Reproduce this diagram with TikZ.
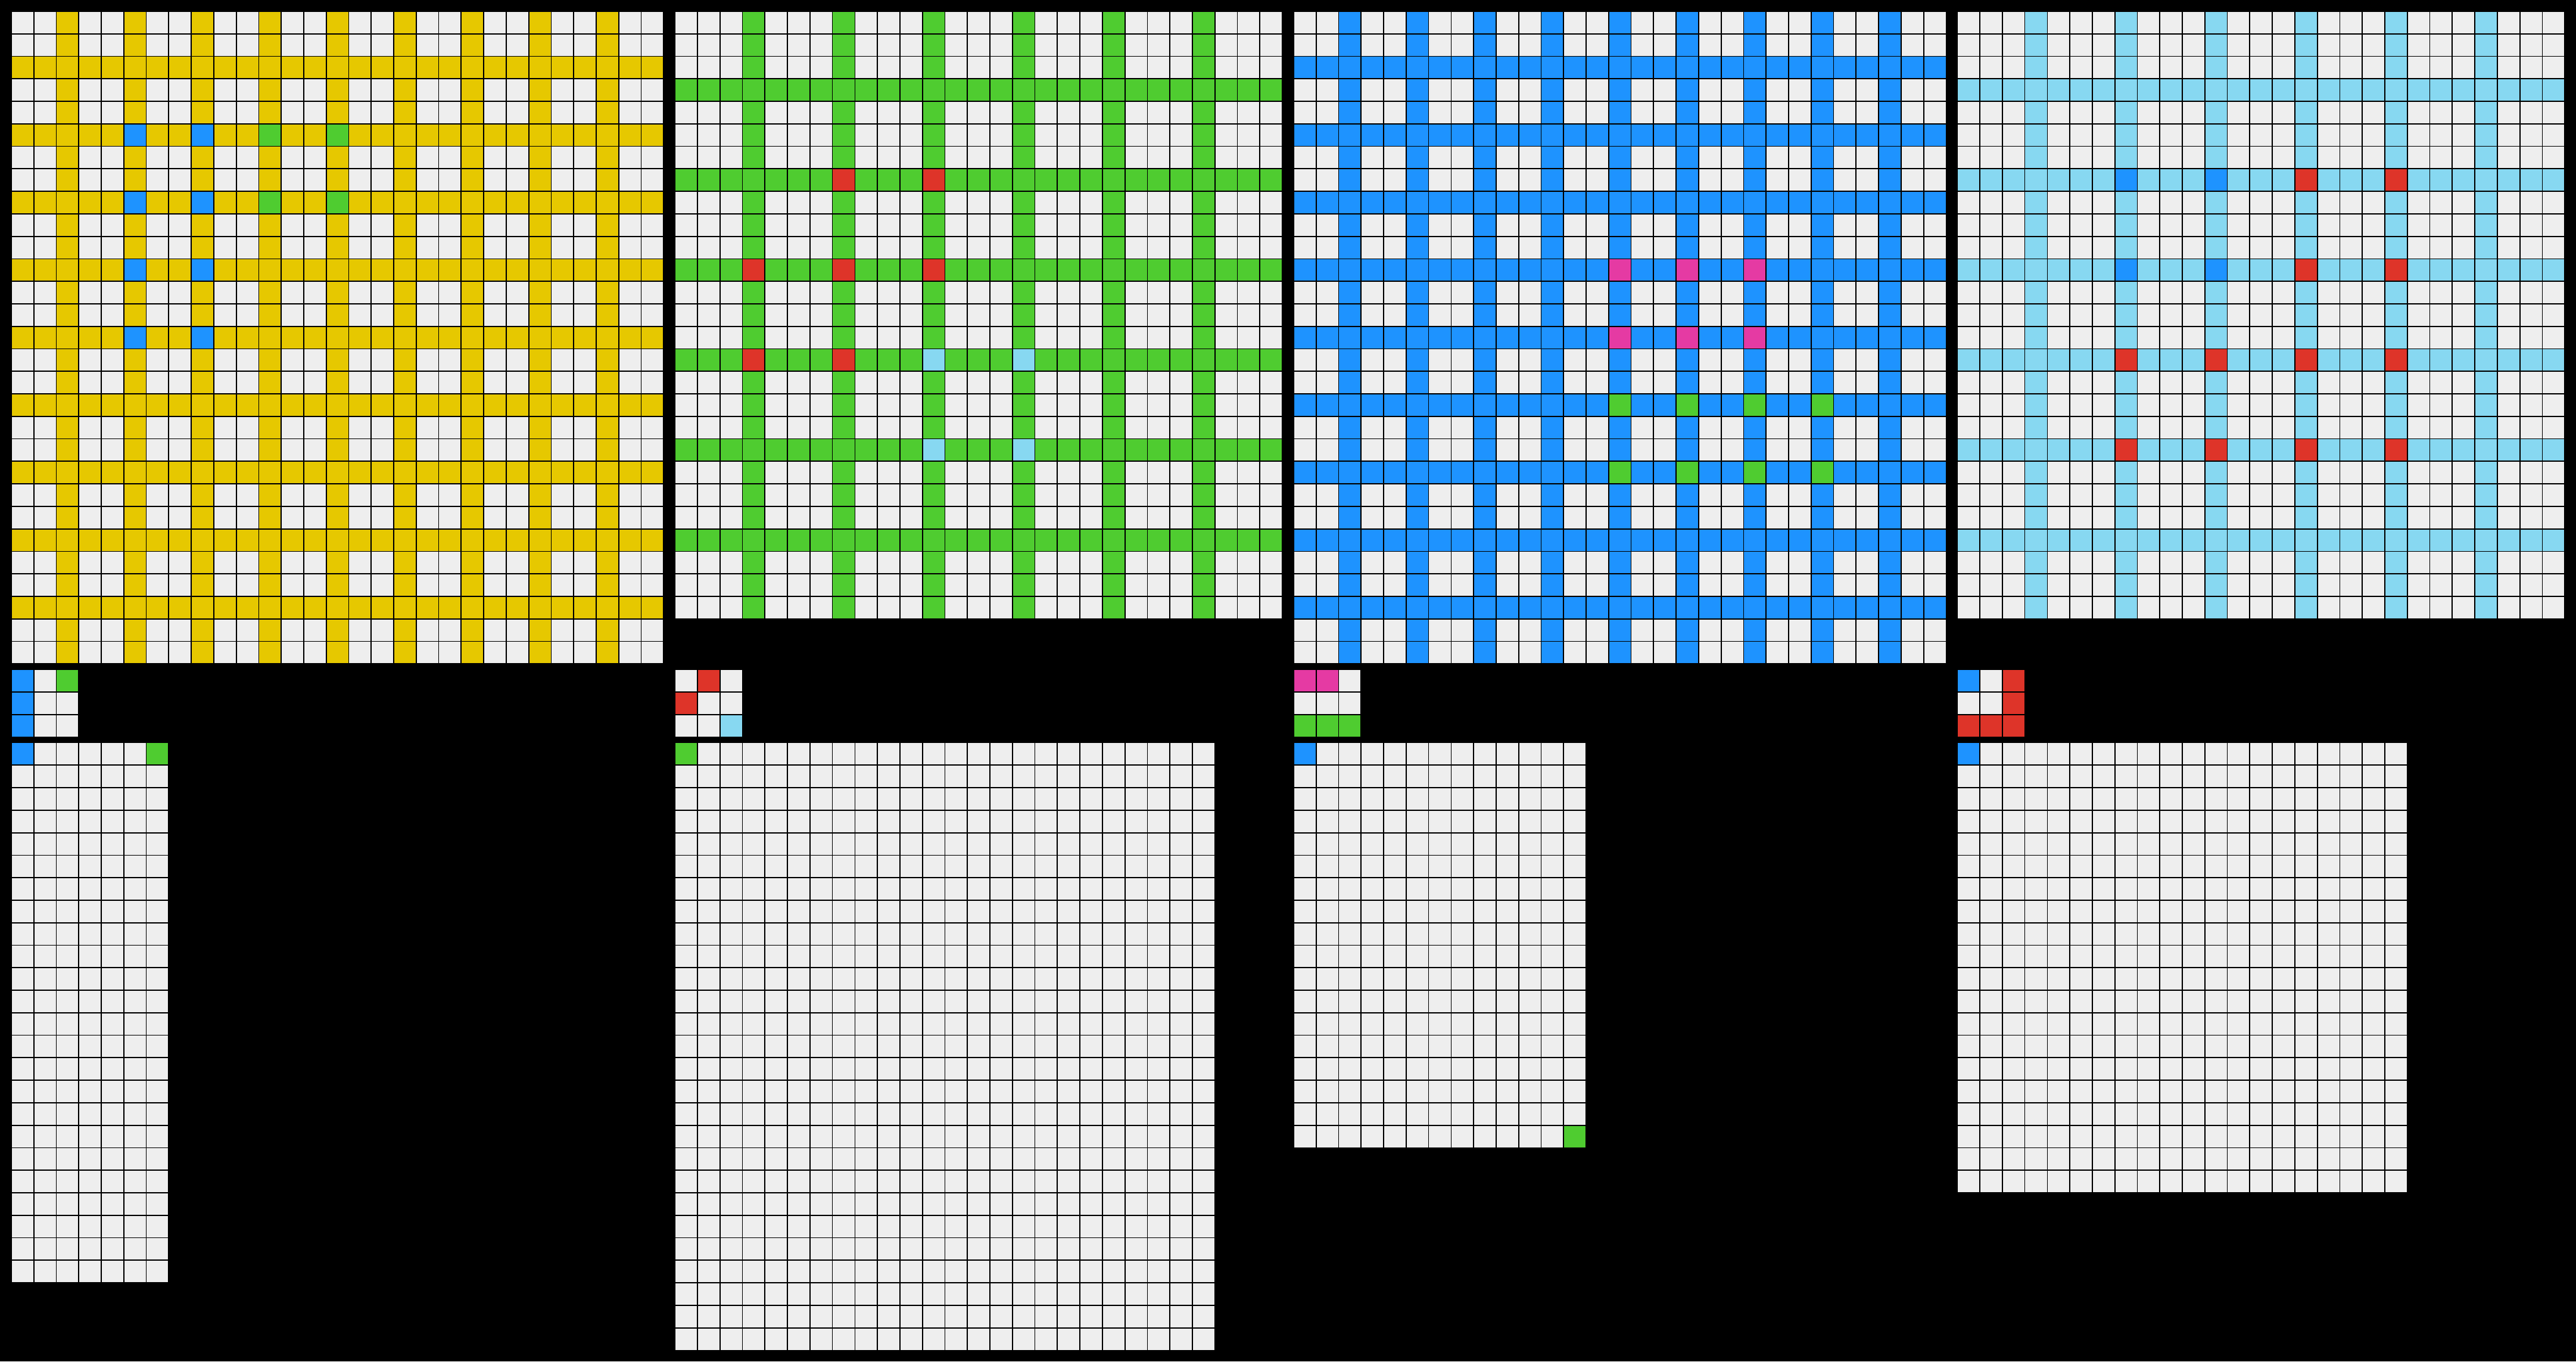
\documentclass[tikz,border=0pt]{standalone}
\usepackage{tikz}

\definecolor{arcgray}{HTML}{EEEEEE}
\definecolor{arcyellow}{HTML}{E6C800}
\definecolor{arcblue}{HTML}{1E93FF}
\definecolor{arcgreen}{HTML}{4FCC30}
\definecolor{arcred}{HTML}{DE3429}
\definecolor{arcmagenta}{HTML}{E53AA3}
\definecolor{arclightblue}{HTML}{87D8F1}

% row, column, colour
\newcommand{\paintcell}[3]{\fill[#3] (#2,#1) rectangle ++(1,1);}
% width, height
\newcommand{\drawlattice}[2]{%
  \foreach \i in {0,...,#1} {\draw[gridline] (\i,0) -- (\i,#2);}
  \foreach \j in {0,...,#2} {\draw[gridline] (0,\j) -- (#1,\j);}}

\begin{document}
\begin{tikzpicture}[
    x=0.5cm, y=-0.5cm,
    board/.style={fill=arcgray},
    gridline/.style={draw=black, line width=0.7pt}
]
    \fill[black] (0,0) rectangle (114.5,60.5);

    % panel 1
    \begin{scope}[shift={(0.5,0.5)}]
        \fill[board] (0,0) rectangle (29,29);
        \foreach \k in {2,5,...,26} {
            \fill[arcyellow] (0,\k) rectangle (29,\k+1);
            \fill[arcyellow] (\k,0) rectangle (\k+1,29);
        }
        \foreach \r in {5,8,11,14} {\foreach \c in {5,8} {\paintcell{\r}{\c}{arcblue}}}
        \foreach \r in {5,8} {\foreach \c in {11,14} {\paintcell{\r}{\c}{arcgreen}}}
        \drawlattice{29}{29}
        \begin{scope}[shift={(0,29.25)}]
            \fill[board] (0,0) rectangle (3,3);
            \foreach \r in {0,1,2} {\paintcell{\r}{0}{arcblue}}
            \paintcell{0}{2}{arcgreen}
            \drawlattice{3}{3}
        \end{scope}
        \begin{scope}[shift={(0,32.5)}]
            \fill[board] (0,0) rectangle (7,24);
            \paintcell{0}{0}{arcblue}
            \paintcell{0}{6}{arcgreen}
            \drawlattice{7}{24}
        \end{scope}
    \end{scope}

    % panel 2
    \begin{scope}[shift={(30,0.5)}]
        \fill[board] (0,0) rectangle (27,27);
        \foreach \k in {3,7,...,23} {
            \fill[arcgreen] (0,\k) rectangle (27,\k+1);
            \fill[arcgreen] (\k,0) rectangle (\k+1,27);
        }
        \foreach \r/\c in {7/7, 7/11, 11/3, 11/7, 11/11, 15/3, 15/7} {\paintcell{\r}{\c}{arcred}}
        \foreach \r in {15,19} {\foreach \c in {11,15} {\paintcell{\r}{\c}{arclightblue}}}
        \drawlattice{27}{27}
        \begin{scope}[shift={(0,29.25)}]
            \fill[board] (0,0) rectangle (3,3);
            \paintcell{0}{1}{arcred}
            \paintcell{1}{0}{arcred}
            \paintcell{2}{2}{arclightblue}
            \drawlattice{3}{3}
        \end{scope}
        \begin{scope}[shift={(0,32.5)}]
            \fill[board] (0,0) rectangle (24,27);
            \paintcell{0}{0}{arcgreen}
            \drawlattice{24}{27}
        \end{scope}
    \end{scope}

    % panel 3
    \begin{scope}[shift={(57.5,0.5)}]
        \fill[board] (0,0) rectangle (29,29);
        \foreach \k in {2,5,...,26} {
            \fill[arcblue] (0,\k) rectangle (29,\k+1);
            \fill[arcblue] (\k,0) rectangle (\k+1,29);
        }
        \foreach \r in {11,14} {\foreach \c in {14,17,20} {\paintcell{\r}{\c}{arcmagenta}}}
        \foreach \r in {17,20} {\foreach \c in {14,17,20,23} {\paintcell{\r}{\c}{arcgreen}}}
        \drawlattice{29}{29}
        \begin{scope}[shift={(0,29.25)}]
            \fill[board] (0,0) rectangle (3,3);
            \paintcell{0}{0}{arcmagenta}
            \paintcell{0}{1}{arcmagenta}
            \foreach \c in {0,1,2} {\paintcell{2}{\c}{arcgreen}}
            \drawlattice{3}{3}
        \end{scope}
        \begin{scope}[shift={(0,32.5)}]
            \fill[board] (0,0) rectangle (13,18);
            \paintcell{0}{0}{arcblue}
            \paintcell{17}{12}{arcgreen}
            \drawlattice{13}{18}
        \end{scope}
    \end{scope}

    % panel 4
    \begin{scope}[shift={(87,0.5)}]
        \fill[board] (0,0) rectangle (27,27);
        \foreach \k in {3,7,...,23} {
            \fill[arclightblue] (0,\k) rectangle (27,\k+1);
            \fill[arclightblue] (\k,0) rectangle (\k+1,27);
        }
        \foreach \r in {7,11} {\foreach \c in {7,11} {\paintcell{\r}{\c}{arcblue}}}
        \foreach \r in {7,11} {\foreach \c in {15,19} {\paintcell{\r}{\c}{arcred}}}
        \foreach \r in {15,19} {\foreach \c in {7,11,15,19} {\paintcell{\r}{\c}{arcred}}}
        \drawlattice{27}{27}
        \begin{scope}[shift={(0,29.25)}]
            \fill[board] (0,0) rectangle (3,3);
            \paintcell{0}{0}{arcblue}
            \foreach \r/\c in {0/2, 1/2, 2/0, 2/1, 2/2} {\paintcell{\r}{\c}{arcred}}
            \drawlattice{3}{3}
        \end{scope}
        \begin{scope}[shift={(0,32.5)}]
            \fill[board] (0,0) rectangle (20,20);
            \paintcell{0}{0}{arcblue}
            \drawlattice{20}{20}
        \end{scope}
    \end{scope}
\end{tikzpicture}
\end{document}
